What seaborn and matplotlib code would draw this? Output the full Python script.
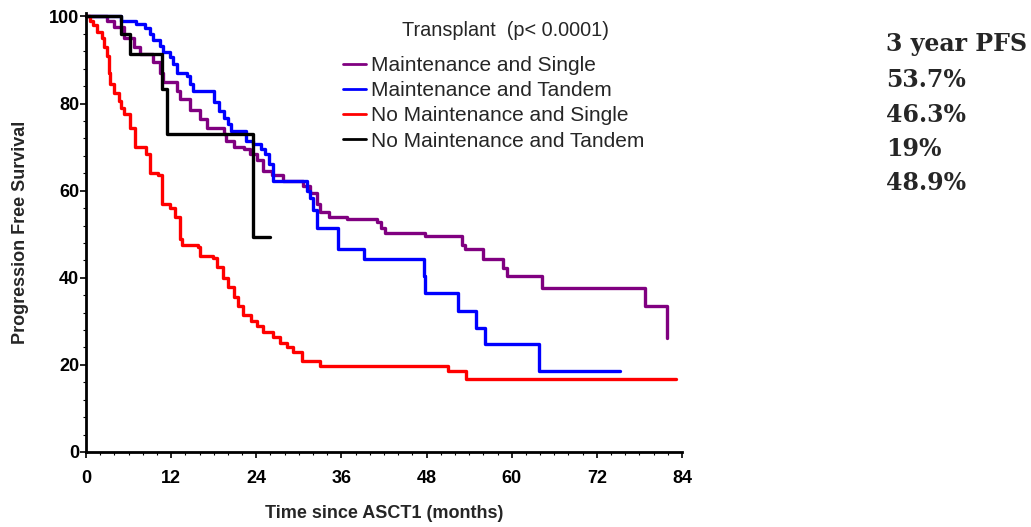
import matplotlib
matplotlib.use("Agg")
import matplotlib.pyplot as plt
import seaborn as sns
import pandas as pd
from matplotlib.ticker import MultipleLocator

# ---- data ----
groups = ["Maintenance and Single", "Maintenance and Tandem",
          "No Maintenance and Single", "No Maintenance and Tandem"]
colors = ["#800080", "#0000FF", "#FF0000", "#000000"]

ms_t = [0, 3.0, 3.9, 5.3, 6.7, 7.6, 9.5, 10.4, 10.9, 12.8, 13.3, 14.7, 16.1, 17.0,
        19.4, 19.8, 20.8, 22.2, 23.1, 24.1, 25.0, 26.2, 27.8, 30.6, 31.6, 32.6,
        33.0, 34.2, 36.8, 41.0, 41.6, 42.2, 47.8, 53.0, 53.4, 56.0, 58.8, 59.4,
        64.3, 78.8, 81.9]
ms_v = [100, 99, 97.5, 95, 93, 91.5, 89.5, 87, 85, 83, 81, 78.5, 76.5, 74.5,
        73, 71.5, 70, 69.5, 68.5, 67, 64.5, 63.5, 62.3, 61, 59.5, 57,
        55, 54, 53.5, 52.7, 51.5, 50.3, 49.6, 47.5, 46.5, 44.4, 42.3, 40.5,
        37.7, 33.5, 26.2]

mt_t = [0, 4.9, 7.0, 8.3, 9.0, 9.5, 10.4, 10.9, 11.8, 12.3, 12.8, 14.2, 14.7,
        15.1, 18.0, 18.7, 19.5, 20.0, 20.5, 22.6, 23.5, 24.7, 25.2, 25.8, 26.3,
        31.1, 31.5, 32.0, 32.6, 35.5, 39.2, 47.6, 47.8, 52.4, 55.0, 56.2, 63.8,
        75.3]
mt_v = [100, 99, 98.3, 97.3, 96, 94.5, 93.3, 91.8, 90.6, 89, 87, 86.4, 84.5,
        83, 80.3, 78.4, 76.8, 75.3, 73.8, 71.5, 70.8, 69.6, 68.4, 66.2, 62.3,
        60, 58.3, 55.6, 51.5, 46.7, 44.4, 40.5, 36.5, 32.4, 28.5, 24.8, 18.6,
        18.6]

ns_t = [0, 0.5, 1.0, 1.5, 2.2, 2.6, 3.0, 3.3, 3.4, 3.9, 4.6, 5.0, 5.4, 6.2,
        6.9, 8.4, 9.0, 10.2, 10.7, 11.8, 12.6, 13.2, 13.6, 15.8, 16.1, 17.9,
        18.4, 19.3, 20.0, 20.9, 21.4, 22.1, 23.3, 24.1, 25.0, 26.3, 27.3, 28.3,
        29.2, 30.4, 33.0, 51.0, 53.6, 83.2]
ns_v = [100, 99, 98, 96.5, 95, 93, 91, 87, 84.5, 82.5, 80.5, 79, 77.5, 74.5,
        70, 68.5, 64, 63.5, 57, 56, 54, 49, 47.5, 47, 45, 44.5,
        42.5, 40, 38, 35.5, 33.5, 31.5, 30, 29, 27.5, 26.5, 25, 24,
        23, 21, 19.8, 18.6, 16.8, 16.8]

nt_t = [0, 4.9, 6.2, 10.7, 11.4, 23.6, 26.0]
nt_v = [100, 96, 91.5, 83.4, 73, 49.3, 49.3]

legend_title = "Transplant  (p< 0.0001)"
pfs_header = "3 year PFS"
pfs_values = ["53.7%", "46.3%", "19%", "48.9%"]

frames = []
for g, t, v in zip(groups, [ms_t, mt_t, ns_t, nt_t], [ms_v, mt_v, ns_v, nt_v]):
    frames.append(pd.DataFrame({"t": t, "v": v, "group": g}))
df = pd.concat(frames, ignore_index=True)

# ---- figure ----
sns.set_theme(style="white")
plt.rcParams["font.family"] = ["Liberation Sans", "DejaVu Sans"]

fig = plt.figure(figsize=(10.31, 5.27), dpi=100)
ax = fig.add_axes([86 / 1031, 1 - 452 / 527, (682 - 86) / 1031, (452 - 13) / 527])

sns.lineplot(data=df, x="t", y="v", hue="group", hue_order=groups,
             palette=dict(zip(groups, colors)), estimator=None, sort=False,
             drawstyle="steps-post", linewidth=2.4, ax=ax, clip_on=False)

ax.set_xlim(0, 84)
ax.set_ylim(0, 100.8)
ax.set_xticks(range(0, 85, 12))
ax.set_yticks(range(0, 101, 20))
ax.xaxis.set_minor_locator(MultipleLocator(2))
ax.yaxis.set_minor_locator(MultipleLocator(4))
for s in ["top", "right"]:
    ax.spines[s].set_visible(False)
for s in ["left", "bottom"]:
    ax.spines[s].set_color("black")
    ax.spines[s].set_linewidth(2.0)
ax.tick_params(axis="both", which="major", direction="out", length=4, width=1.2,
               colors="black", labelsize=13, bottom=True, left=True)
ax.tick_params(axis="both", which="minor", direction="out", length=2.5, width=0.8,
               colors="black", bottom=True, left=True)
for lab in ax.get_xticklabels() + ax.get_yticklabels():
    lab.set_fontweight("bold")
ax.tick_params(axis="x", pad=9)
ax.tick_params(axis="y", pad=1)

ax.set_xlabel("Time since ASCT1 (months)", fontsize=13, fontweight="bold", labelpad=13)
ax.set_ylabel("Progression Free Survival", fontsize=13, fontweight="bold", labelpad=14)

handles, labels = ax.get_legend_handles_labels()
leg = ax.legend(handles, labels, frameon=False,
                loc="upper left", bbox_to_anchor=(343 / 1031, 1 - 56 / 527),
                bbox_transform=fig.transFigure, fontsize=15,
                handlelength=1.1, handletextpad=0.25, labelspacing=0.3,
                borderaxespad=0, borderpad=0)
for line in leg.get_lines():
    line.set_linewidth(2.0)

fig.text(506 / 1031, 1 - 31 / 527, legend_title, fontsize=14.3,
         ha="center", va="center")

fig.text(886 / 1031, 1 - 44 / 527, pfs_header, family="DejaVu Serif",
         fontweight="bold", fontsize=17, va="center", ha="left")
for i, val in enumerate(pfs_values):
    fig.text(886 / 1031, 1 - (80 + 34.5 * i) / 527, val, family="DejaVu Serif",
             fontweight="bold", fontsize=17, va="center", ha="left")

fig.savefig("out.png", dpi=100)
